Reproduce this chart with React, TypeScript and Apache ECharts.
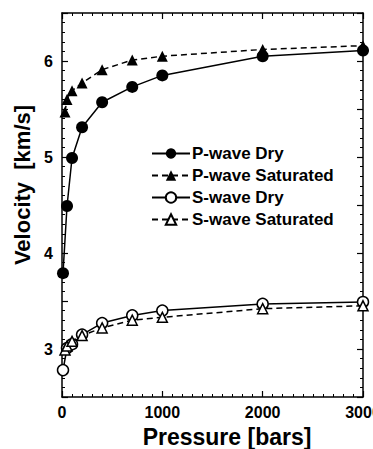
import React, { useEffect, useRef } from "react";
import * as echarts from "echarts";

const pressureDry = [10, 50, 100, 200, 400, 700, 1000, 2000, 3000];
const pressureSat = [30, 50, 100, 200, 400, 700, 1000, 2000, 3000];
const pWaveDry = [3.79, 4.49, 4.99, 5.31, 5.57, 5.73, 5.85, 6.05, 6.11];
const pWaveSat = [5.47, 5.6, 5.69, 5.77, 5.91, 6.01, 6.05, 6.12, 6.16];
const sWaveDry = [2.78, 3.01, 3.05, 3.15, 3.27, 3.35, 3.4, 3.47, 3.49];
const sWaveSat = [2.99, 3.03, 3.08, 3.14, 3.22, 3.3, 3.33, 3.42, 3.45];
const seriesNames = ["P-wave Dry", "P-wave Saturated", "S-wave Dry", "S-wave Saturated"];

const FONT = "'Liberation Sans', Arial, Helvetica, sans-serif";

function pairs(xs: number[], ys: number[]) {
  return xs.map((x, i) => [x, ys[i]]);
}

export default function App() {
  const ref = useRef<HTMLDivElement>(null);
  useEffect(() => {
    if (!ref.current) return;
    document.documentElement.style.overflow = "hidden";
    document.body.style.overflow = "hidden";
    document.body.style.margin = "0";
    const chart = echarts.init(ref.current, null, { renderer: "svg", width: 373, height: 449 });
    const axisCommon = {
      axisLine: { show: true, onZero: false, lineStyle: { color: "#000", width: 1.5 } },
      splitLine: { show: false },
    };
    const mk = (
      name: string,
      xs: number[],
      ys: number[],
      symbol: string,
      size: number,
      dashed: boolean,
      filled: boolean
    ) => ({
      name,
      type: "line",
      data: pairs(xs, ys),
      symbol,
      symbolSize: size,
      showAllSymbol: true,
      clip: true,
      lineStyle: { color: "#000", width: 1.5, type: dashed ? [6, 4] : "solid" },
      itemStyle: {
        color: filled ? "#000" : "#fff",
        borderColor: "#000",
        borderWidth: filled ? 0 : 1.5,
      },
      emphasis: { disabled: true },
    });
    chart.setOption({
      animation: false,
      grid: {
        left: 62,
        right: 10,
        top: 13,
        bottom: 52,
        containLabel: false,
        outerBoundsMode: "none",
      },
      xAxis: [
        {
          type: "value",
          min: 0,
          max: 3000,
          interval: 1000,
          ...axisCommon,
          axisTick: { show: true, inside: true, length: 6, lineStyle: { color: "#000", width: 1.2 } },
          minorTick: { show: true, splitNumber: 10, length: 3, lineStyle: { color: "#000", width: 1 } },
          axisLabel: {
            show: true,
            margin: 7,
            fontSize: 16,
            fontWeight: "bold",
            fontFamily: FONT,
            color: "#000",
            formatter: (v: number) => String(v),
          },
        },
        {
          type: "value",
          position: "top",
          min: 0,
          max: 3000,
          interval: 1000,
          ...axisCommon,
          axisTick: { show: true, inside: true, length: 6, lineStyle: { color: "#000", width: 1.2 } },
          minorTick: { show: true, splitNumber: 10, length: 3, lineStyle: { color: "#000", width: 1 } },
          axisLabel: { show: false },
        },
      ],
      yAxis: [
        {
          type: "value",
          min: 2.5,
          max: 6.5,
          interval: 0.5,
          ...axisCommon,
          axisTick: { show: true, inside: true, length: 6, lineStyle: { color: "#000", width: 1.2 } },
          minorTick: { show: true, splitNumber: 5, length: 3, lineStyle: { color: "#000", width: 1 } },
          axisLabel: {
            show: true,
            margin: 9,
            fontSize: 16,
            fontWeight: "bold",
            fontFamily: FONT,
            color: "#000",
            formatter: (v: number) => (Math.abs(v - Math.round(v)) < 1e-6 ? String(Math.round(v)) : ""),
          },
        },
        {
          type: "value",
          position: "right",
          min: 2.5,
          max: 6.5,
          interval: 0.5,
          ...axisCommon,
          axisTick: { show: true, inside: true, length: 6, lineStyle: { color: "#000", width: 1.2 } },
          minorTick: { show: true, splitNumber: 5, length: 3, lineStyle: { color: "#000", width: 1 } },
          axisLabel: { show: false },
        },
      ],
      legend: {
        orient: "vertical",
        left: 146,
        top: 140,
        itemWidth: 38,
        itemHeight: 13,
        itemGap: 5,
        selectedMode: false,
        data: seriesNames,
        textStyle: { fontSize: 17, fontWeight: "bold", fontFamily: FONT, color: "#000", padding: [0, 0, 0, -3] },
      },
      graphic: [
        {
          type: "text",
          x: 227,
          y: 437,
          style: {
            text: "Pressure [bars]",
            fontSize: 23,
            fontWeight: "bold",
            fontFamily: FONT,
            fill: "#000",
            align: "center",
            verticalAlign: "middle",
          },
        },
        {
          type: "text",
          x: 22,
          y: 185,
          rotation: Math.PI / 2,
          style: {
            text: "Velocity  [km/s]",
            fontSize: 22,
            fontWeight: "bold",
            fontFamily: FONT,
            fill: "#000",
            align: "center",
            verticalAlign: "middle",
          },
        },
      ],
      series: [
        mk(seriesNames[0], pressureDry, pWaveDry, "circle", 12, false, true),
        mk(seriesNames[1], pressureSat, pWaveSat, "triangle", 11, true, true),
        mk(seriesNames[2], pressureDry, sWaveDry, "circle", 11, false, false),
        mk(seriesNames[3], pressureSat, sWaveSat, "triangle", 10, true, false),
      ],
    });
    return () => chart.dispose();
  }, []);
  return (
    <div
      ref={ref}
      style={{ position: "absolute", left: 0, top: 0, width: 373, height: 449, overflow: "hidden" }}
    />
  );
}
